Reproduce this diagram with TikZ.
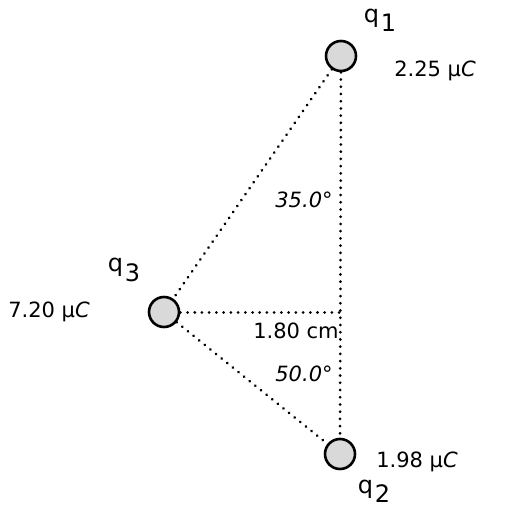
\documentclass[tikz,border=0pt]{standalone}
\usepackage{fontspec}
\setmainfont{DejaVu Sans}

\tikzset{
    charge/.style={circle, draw=black, line width=1.3pt, fill=gray!30, minimum size=15pt, inner sep=0pt},
    link/.style={line width=1.5pt, line cap=round, dash pattern=on 0.01pt off 3.6pt},
    lbl/.style={font=\fontsize{10.5}{12}\selectfont, inner sep=1pt},
    qlbl/.style={font=\fontsize{12}{14}\selectfont, inner sep=1pt}
}
\newcommand{\qsub}[1]{q\kern1pt\raisebox{-0.7ex}{#1}}

\begin{document}
\begin{tikzpicture}[x=0.5pt,y=-0.5pt]
        \useasboundingbox (0,0) rectangle (510,512);
        % charges
        \node[charge] (q1) at (341,56) {};
        \node[charge] (q3) at (164,312) {};
        \node[charge] (q2) at (340,454) {};
        \coordinate (foot) at (341,312);

        % dotted sides of the triangle
        \draw[link] (q1) -- (q3);
        \draw[link] (q3) -- (q2);
        \draw[link] (q1) -- (q2);
        \draw[link] (q3) -- (foot);

        % labels of the charges
        \node[qlbl] (n1) at (380,20) {\qsub{1}};
        \node[lbl] (v1) at (435,71) {2.25 μ\textit{C}};
        \node[qlbl] (n3) at (124,270) {\qsub{3}};
        \node[lbl] (v3) at (49,312) {7.20 μ\textit{C}};
        \node[lbl] (v2) at (417,462) {1.98 μ\textit{C}};
        \node[qlbl] (n2) at (374,491) {\qsub{2}};

        % angles and distance
        \node[lbl] (a1) at (304,200) {\textit{35.0°}};
        \node[lbl] (d) at (296,331) {1.80 cm};
        \node[lbl] (a2) at (304,374) {\textit{50.0°}};
\end{tikzpicture}
\end{document}
